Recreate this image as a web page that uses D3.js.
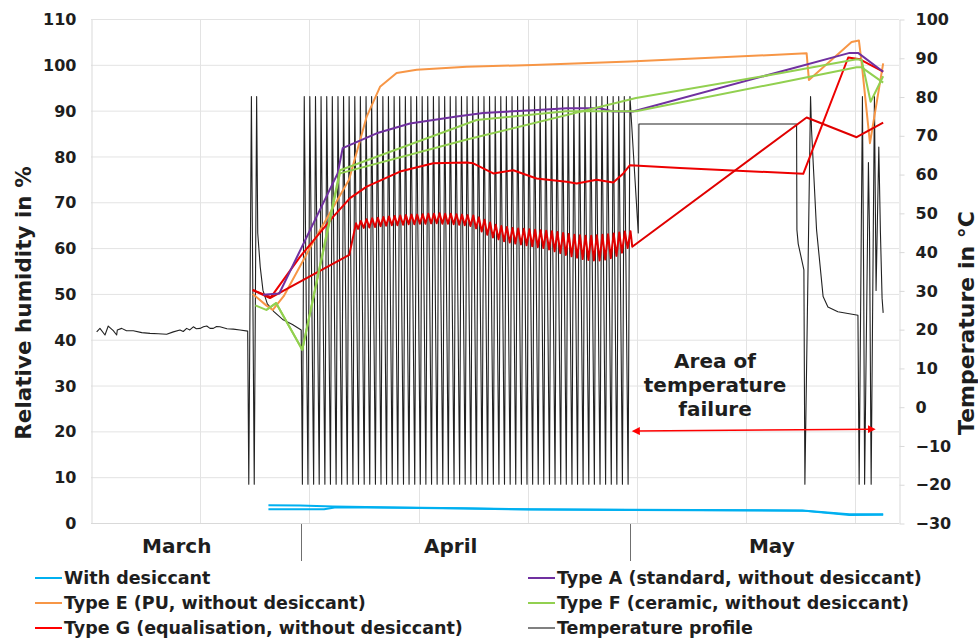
<!DOCTYPE html>
<html>
<head>
<meta charset="utf-8">
<script src="https://cdn.jsdelivr.net/npm/d3@7"></script>
<style>
  body { margin: 0; background: #fff; }
  text { font-family: "DejaVu Sans", Verdana, sans-serif; font-weight: bold; fill: #1e1e1e; }
</style>
</head>
<body>
<script>
var width = 978, height = 642;

// x values are days counted from 1 March (1 April = 31, 1 May = 61)
const xDomain = [11.85, 85.85];
const xGridDays = [11.85, 21.85, 31.85, 41.85, 51.85, 61.85, 71.85, 81.85];
const monthNames = ["March", "April", "May"];
const monthLabelDays = [19.7, 44.8, 74.2];
const monthSeparatorDays = [31.1, 61.2];

const rhTicks = [0, 10, 20, 30, 40, 50, 60, 70, 80, 90, 100, 110];
const tempTicks = [-30, -20, -10, 0, 10, 20, 30, 40, 50, 60, 70, 80, 90, 100];

// relative humidity in % (left axis)
const withDesiccant1 = [[28.1,3.9],[31.0,3.8],[34.0,3.6],[40.0,3.4],[46.0,3.2],[52.0,3.0],[61.2,2.9],[77.0,2.75],[81.3,1.9],[84.4,1.9]];
const withDesiccant2 = [[28.1,3.0],[33.2,3.0],[34.3,3.45],[40.0,3.35],[46.0,3.15],[52.0,2.95],[61.2,2.85],[77.0,2.7],[81.3,1.75],[84.4,1.8]];

const typeE = [[26.66,50.0],[27.9,47.5],[28.5,46.5],[29.5,49.5],[32.15,61.1],[35.48,74.9],[37.1,88.7],[38.32,95.2],
  [39.84,98.2],[41.68,98.9],[46.25,99.6],[52.33,99.95],[61.21,100.7],[77.39,102.5],[77.6,96.7],[81.51,105.0],
  [82.18,105.3],[82.43,100.4],[83.19,82.9],[84.4,100.3]];

const typeA = [[27.6,49.8],[29.09,50.1],[34.44,76.3],[34.9,81.8],[38.01,85.05],[41.06,87.2],[45.34,88.7],[47.77,89.5],
  [52.35,90.1],[55.41,90.5],[58.46,90.5],[59.65,89.8],[61.48,89.8],[81.33,102.6],[82.1,102.6],[84.4,98.5]];

const typeF1 = [[26.9,47.5],[27.9,46.5],[28.8,48.0],[31.2,37.8],[34.65,76.3],[46.19,83.65],[61.76,92.75],[74.94,98.15],
  [81.97,101.2],[82.43,101.05],[83.25,91.95],[84.4,97.5]];
const typeF2 = [[27.9,46.5],[28.8,48.0],[31.2,37.8],[34.65,77.0],[47.17,87.95],[55.35,89.85],[61.76,89.85],[74.94,96.1],
  [81.97,99.45],[82.43,99.45],[84.4,96.1]];

const typeG1 = [[26.66,50.85],[28.33,49.3],[30.99,58.1],[34.04,66.85],[35.57,70.9],[37.1,73.4],[40.15,76.7],[43.2,78.5],
  [46.26,78.7],[46.86,78.5],[48.69,76.3],[50.52,77.0],[52.66,75.2],[55.4,74.5],[56.33,74.1],[58.16,74.9],[59.68,74.3],
  [60.6,76.3],[61.21,78.1],[65.79,77.5],[77.08,76.2],[81.2,101.6],[82.27,101.2],[84.4,98.5]];

const typeG2 = [[26.66,50.85],[28.24,49.1],[35.5,58.5],[36.12,65.4],
  [36.31,64.2],[36.57,65.9],[36.83,64.4],[37.09,66.3],[37.34,64.5],[37.60,66.5],[37.86,64.6],[38.12,66.6],
  [38.37,64.8],[38.63,66.8],[38.88,64.9],[39.14,66.9],[39.40,65.0],[39.66,67.0],[39.91,65.0],[40.17,67.1],
  [40.43,65.1],[40.69,67.2],[40.94,65.2],[41.20,67.3],[41.46,65.2],[41.72,67.3],[41.97,65.3],[42.23,67.4],
  [42.48,65.3],[42.74,67.5],[43.00,65.4],[43.26,67.5],[43.51,65.4],[43.77,67.6],[44.03,65.3],[44.29,67.5],
  [44.54,65.3],[44.80,67.5],[45.06,65.2],[45.32,67.4],[45.57,65.1],[45.83,67.3],[46.08,65.0],[46.34,67.2],
  [46.60,64.8],[46.86,67.1],[47.11,64.3],[47.37,66.7],[47.63,63.6],[47.89,66.2],[48.14,62.9],[48.40,65.6],
  [48.66,62.3],[48.92,65.1],[49.17,61.9],[49.43,64.8],[49.68,61.5],[49.94,64.6],[50.20,61.2],[50.46,64.4],
  [50.71,61.0],[50.97,64.3],[51.23,60.8],[51.49,64.2],[51.74,60.6],[52.00,64.1],[52.26,60.4],[52.52,64.0],
  [52.77,60.2],[53.03,63.9],[53.28,60.0],[53.54,63.8],[53.80,59.7],[54.06,63.7],[54.31,59.3],[54.57,63.5],
  [54.83,58.9],[55.09,63.3],[55.34,58.5],[55.60,63.1],[55.86,58.2],[56.12,62.9],[56.37,57.9],[56.63,62.8],
  [56.88,57.6],[57.14,62.7],[57.40,57.4],[57.66,62.7],[57.91,57.3],[58.17,62.8],[58.43,57.3],[58.69,62.9],
  [58.94,57.5],[59.20,63.0],[59.46,57.8],[59.72,63.2],[59.97,58.3],[60.23,63.4],[60.48,59.0],[60.74,63.6],
  [61.00,60.0],[61.26,63.7],[61.42,60.3],[77.39,88.5],[81.97,84.2],[84.4,87.4]];

// temperature in °C (right axis)
const temperature = [[12.37,19.3],[12.67,20.2],[13.13,18.5],[13.43,20.8],[13.89,19.6],[14.2,18.5],[14.26,19.8],[14.66,20.2],
  [15.1,19.6],[15.72,19.6],[16.5,19.1],[17.25,18.9],[18.0,18.8],[18.78,18.7],[19.39,19.3],[20.0,19.8],[20.3,19.4],
  [20.61,20.2],[20.9,19.8],[21.22,20.6],[21.5,20.1],[21.83,20.2],[22.15,20.6],[22.45,20.8],[22.75,20.2],[23.05,20.2],
  [23.35,20.7],[23.66,20.6],[24.3,20.1],[24.88,20.0],[25.5,19.8],[26.2,19.5],
  [26.3,-20],[26.54,80],[26.8,-20],[27.02,80],[27.12,44.8],[27.35,36],[27.6,30],[28.0,26.5],[28.6,24.5],[29.4,22.5],
  [30.3,21.2],[31.1,19.8],
  [31.21,-20],[31.38,80],[31.72,-20],[31.89,80],[32.24,-20],[32.41,80],[32.75,-20],[32.92,80],[33.27,-20],[33.44,80],
  [33.78,-20],[33.95,80],[34.30,-20],[34.47,80],[34.81,-20],[34.98,80],[35.2,19.8],[35.215,9.5],[35.205,19.8],[35.22,9.5],
  [35.32,-20],[35.49,80],[35.84,-20],[36.01,80],[36.35,-20],[36.52,80],[36.87,-20],[37.04,80],[37.38,-20],[37.55,80],
  [37.90,-20],[38.07,80],[38.41,-20],[38.58,80],[38.92,-20],[39.09,80],[39.44,-20],[39.61,80],[39.95,-20],[40.12,80],
  [40.47,-20],[40.64,80],[40.98,-20],[41.15,80],[41.50,-20],[41.67,80],[42.01,-20],[42.18,80],[42.52,-20],[42.69,80],
  [43.04,-20],[43.21,80],[43.55,-20],[43.72,80],[44.07,-20],[44.24,80],[44.58,-20],[44.75,80],[45.10,-20],[45.27,80],
  [45.61,-20],[45.78,80],[46.12,-20],[46.29,80],[46.64,-20],[46.81,80],[47.15,-20],[47.32,80],[47.67,-20],[47.84,80],
  [48.18,-20],[48.35,80],[48.70,-20],[48.87,80],[49.21,-20],[49.38,80],[49.72,-20],[49.89,80],[50.24,-20],[50.41,80],
  [50.75,-20],[50.92,80],[51.27,-20],[51.44,80],[51.78,-20],[51.95,80],[52.30,-20],[52.47,80],[52.81,-20],[52.98,80],
  [53.32,-20],[53.49,80],[53.84,-20],[54.01,80],[54.35,-20],[54.52,80],[54.87,-20],[55.04,80],[55.38,-20],[55.55,80],
  [55.90,-20],[56.07,80],[56.41,-20],[56.58,80],[56.92,-20],[57.09,80],[57.44,-20],[57.61,80],[57.95,-20],[58.12,80],
  [58.47,-20],[58.64,80],[58.98,-20],[59.15,80],[59.50,-20],[59.67,80],[60.01,-20],[60.18,80],[60.52,-20],[60.69,80],
  [61.04,-20],[61.21,80],[61.97,44.8],[62.03,72.9],[76.47,72.9],[76.5,45.6],[76.62,42],[77.14,35.3],[77.23,-20],
  [77.75,80],[77.84,71.4],[78.3,45.6],[78.9,28.4],[79.34,25.7],[80.25,24.5],[82.09,23.6],
  [82.2,-20],[82.5,80],[82.62,30],[82.7,-20],[83.05,63],[83.15,45],[83.3,-20],[83.6,80],[83.75,30],[84.0,67],
  [84.15,44.8],[84.3,28],[84.4,24.2]];

// annotation: span of the temperature failure
const failureArrow = [[61.75, -6.3], [83.35, -5.8]];
const failureLabel = ["Area of", "temperature", "failure"];
const failureLabelDay = 69.0;

const legendItems = [
  { name: "With desiccant", color: "#00b0f0" },
  { name: "Type E (PU, without desiccant)", color: "#f79646" },
  { name: "Type G (equalisation, without desiccant)", color: "#ff0000" },
  { name: "Type A (standard, without desiccant)", color: "#7030a0" },
  { name: "Type F (ceramic, without desiccant)", color: "#92d050" },
  { name: "Temperature profile", color: "#808080" }
];

var svg = d3.select('body').append('svg')
    .attr('width', width)
    .attr('height', height);

const x = d3.scaleLinear().domain(xDomain).range([91, 899]);
const yRH = d3.scaleLinear().domain([0, 110]).range([523, 19]);
const yT = d3.scaleLinear().domain([-30, 100]).range([523, 19]);

// grid
const gGrid = svg.append('g').attr('stroke', '#e3e3e3').attr('stroke-width', 1);
gGrid.selectAll('line.h').data(rhTicks.slice(1)).join('line')
    .attr('x1', 91).attr('x2', 899)
    .attr('y1', d => yRH(d) + 0.5).attr('y2', d => yRH(d) + 0.5);
gGrid.selectAll('line.v').data(xGridDays.slice(1)).join('line')
    .attr('x1', d => Math.round(x(d)) + 0.5).attr('x2', d => Math.round(x(d)) + 0.5)
    .attr('y1', 19).attr('y2', 523);

// axes
const leftAxis = svg.append('g').attr('transform', 'translate(91.5,0.5)')
    .call(d3.axisLeft(yRH).tickValues(rhTicks).tickSize(0).tickPadding(15));
const rightAxis = svg.append('g').attr('transform', 'translate(899.5,0.5)')
    .call(d3.axisRight(yT).tickValues(tempTicks).tickSize(5).tickSizeOuter(0).tickPadding(11));
[leftAxis, rightAxis].forEach(a => {
    a.select('.domain').attr('stroke', '#d9d9d9');
    a.selectAll('line').attr('stroke', '#d9d9d9');
    a.selectAll('text').attr('font-size', 16).attr('font-family', '"DejaVu Sans", Verdana, sans-serif')
        .attr('font-weight', 'bold').attr('fill', '#1e1e1e');
});
svg.append('line').attr('x1', 91).attr('x2', 899).attr('y1', 523.5).attr('y2', 523.5).attr('stroke', '#d9d9d9');

// month separators + labels
svg.selectAll('line.month').data(monthSeparatorDays).join('line')
    .attr('x1', d => Math.round(x(d)) + 0.5).attr('x2', d => Math.round(x(d)) + 0.5)
    .attr('y1', 524).attr('y2', 561).attr('stroke', '#6f6f6f');
svg.selectAll('text.month').data(monthNames).join('text')
    .attr('x', (d, i) => x(monthLabelDays[i])).attr('y', 553)
    .attr('text-anchor', 'middle').attr('font-size', 20).text(d => d);

// axis titles
svg.append('text').attr('transform', 'translate(31,303) rotate(-90)')
    .attr('text-anchor', 'middle').attr('font-size', 21.5).text('Relative humidity in %');
svg.append('text').attr('transform', 'translate(974,323) rotate(-90)')
    .attr('text-anchor', 'middle').attr('font-size', 22).text('Temperature in °C');

// lines
const lineRH = d3.line().x(d => x(d[0])).y(d => yRH(d[1]));
const lineT = d3.line().x(d => x(d[0])).y(d => yT(d[1]));

const gLines = svg.append('g').attr('fill', 'none').attr('stroke-linejoin', 'round');
gLines.append('path').attr('d', lineT(temperature)).attr('stroke', '#222').attr('stroke-width', 1.1);

const rhSeries = [
    { data: withDesiccant1, color: "#00b0f0" },
    { data: withDesiccant2, color: "#00b0f0" },
    { data: typeE, color: "#f79646" },
    { data: typeG1, color: "#ee0000" },
    { data: typeG2, color: "#e00000" },
    { data: typeA, color: "#7030a0" },
    { data: typeF1, color: "#92d050" },
    { data: typeF2, color: "#92d050" }
];
gLines.selectAll('path.rh').data(rhSeries).join('path')
    .attr('d', d => lineRH(d.data)).attr('stroke', d => d.color).attr('stroke-width', 2);

// temperature failure annotation
const defs = svg.append('defs');
['start', 'end'].forEach(k => {
    defs.append('marker').attr('id', 'arr-' + k)
        .attr('markerWidth', 8).attr('markerHeight', 8).attr('refX', 4).attr('refY', 4)
        .attr('orient', k === 'end' ? 'auto' : 'auto-start-reverse')
        .attr('markerUnits', 'userSpaceOnUse')
      .append('path').attr('d', 'M0,0 L8,4 L0,8 Z').attr('fill', '#ff0000');
});
svg.append('line')
    .attr('x1', x(failureArrow[0][0])).attr('y1', yT(failureArrow[0][1]))
    .attr('x2', x(failureArrow[1][0])).attr('y2', yT(failureArrow[1][1]))
    .attr('stroke', '#ff0000').attr('stroke-width', 1.5)
    .attr('marker-start', 'url(#arr-start)').attr('marker-end', 'url(#arr-end)');
svg.selectAll('text.fail').data(failureLabel).join('text')
    .attr('x', x(failureLabelDay)).attr('y', (d, i) => 368 + i * 24)
    .attr('text-anchor', 'middle').attr('font-size', 20).text(d => d);

// legend
const legend = svg.append('g');
legendItems.forEach((item, i) => {
    const col = Math.floor(i / 3), row = i % 3;
    const lx = col === 0 ? 35 : 528, ly = 578 + row * 25;
    legend.append('line').attr('x1', lx).attr('x2', lx + 27).attr('y1', ly).attr('y2', ly)
        .attr('stroke', item.color).attr('stroke-width', 2);
    legend.append('text').attr('x', lx + 29).attr('y', ly).attr('dy', '0.35em')
        .attr('font-size', 17.5).text(item.name);
});
</script>
</body>
</html>
